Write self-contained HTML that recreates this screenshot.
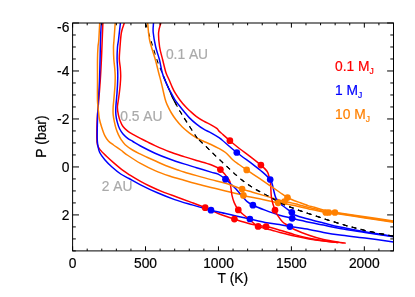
<!DOCTYPE html>
<html><head><meta charset="utf-8"><title>P-T profiles</title>
<style>
html,body{margin:0;padding:0;background:#fff;}
body{width:415px;height:297px;overflow:hidden;}
svg{display:block;will-change:transform;}
svg text{font-family:"Liberation Sans",sans-serif;font-kerning:none;}
</style></head><body>
<svg width="415" height="297" viewBox="0 0 415 297">
<rect width="415" height="297" fill="#fff"/>
<defs><clipPath id="clipE"><rect x="279.5" y="108" width="120" height="150"/></clipPath><clipPath id="clipD"><rect x="60" y="108" width="340" height="150"/></clipPath><clipPath id="clip"><rect x="72.6" y="23.0" width="320.9" height="227.9"/></clipPath></defs>
<g clip-path="url(#clip)" fill="none" stroke-linejoin="round" stroke-linecap="butt">
<path d="M102.90,23.00 C102.78,25.83 102.45,33.83 102.20,40.00 C101.95,46.17 101.72,53.33 101.40,60.00 C101.08,66.67 100.75,73.17 100.30,80.00 C99.85,86.83 99.22,94.50 98.70,101.00 C98.18,107.50 97.52,112.83 97.20,119.00 C96.88,125.17 96.75,133.67 96.80,138.00 C96.85,142.33 96.97,143.07 97.50,145.00 C98.03,146.93 98.55,147.77 100.00,149.60 C101.45,151.43 103.95,153.83 106.20,156.00 C108.45,158.17 110.72,160.20 113.50,162.60 C116.28,165.00 120.15,168.32 122.90,170.40 C125.65,172.48 127.07,173.28 130.00,175.10 C132.93,176.92 137.17,179.45 140.50,181.30 C143.83,183.15 146.38,184.48 150.00,186.20 C153.62,187.92 157.75,189.80 162.20,191.60 C166.65,193.40 172.07,195.28 176.70,197.00 C181.33,198.72 185.25,200.12 190.00,201.90 C194.75,203.68 200.50,205.77 205.20,207.70 C209.90,209.63 213.33,211.60 218.20,213.50 C223.07,215.40 229.02,217.37 234.40,219.10 C239.78,220.83 245.22,222.65 250.50,223.90 C255.78,225.15 261.18,225.55 266.10,226.60 C271.02,227.65 275.27,228.87 280.00,230.20 C284.73,231.53 289.67,233.27 294.50,234.60 C299.33,235.93 304.17,237.17 309.00,238.20 C313.83,239.23 318.67,240.08 323.50,240.80 C328.33,241.52 335.58,242.22 338.00,242.50" stroke="#ff0000" stroke-width="1.5"/>
<path d="M101.20,23.00 C101.08,25.83 100.68,34.17 100.50,40.00 C100.32,45.83 100.27,51.33 100.10,58.00 C99.93,64.67 99.80,72.83 99.50,80.00 C99.20,87.17 98.63,94.50 98.30,101.00 C97.97,107.50 97.68,112.83 97.50,119.00 C97.32,125.17 97.15,133.67 97.20,138.00 C97.25,142.33 97.38,142.58 97.80,145.00 C98.22,147.42 98.53,150.05 99.70,152.50 C100.87,154.95 102.75,157.28 104.80,159.70 C106.85,162.12 109.35,164.62 112.00,167.00 C114.65,169.38 117.87,172.08 120.70,174.00 C123.53,175.92 125.70,176.70 129.00,178.50 C132.30,180.30 135.77,182.42 140.50,184.80 C145.23,187.18 151.70,190.33 157.40,192.80 C163.10,195.27 168.92,197.58 174.70,199.60 C180.48,201.62 187.47,203.52 192.10,204.90 C196.73,206.28 199.35,207.02 202.50,207.90 C205.65,208.78 207.17,209.27 211.00,210.20 C214.83,211.13 221.33,212.55 225.50,213.50 C229.67,214.45 231.93,214.98 236.00,215.90 C240.07,216.82 245.07,217.90 249.90,219.00 C254.73,220.10 260.07,221.57 265.00,222.50 C269.93,223.43 275.35,223.92 279.50,224.60 C283.65,225.28 284.98,225.78 289.90,226.60 C294.82,227.42 303.40,228.53 309.00,229.50 C314.60,230.47 318.33,231.48 323.50,232.40 C328.67,233.32 333.08,234.07 340.00,235.00 C346.92,235.93 356.08,236.83 365.00,238.00 C373.92,239.17 388.75,241.33 393.50,242.00" stroke="#0000ff" stroke-width="1.5"/>
<path d="M99.70,23.00 C99.55,25.83 99.08,36.00 98.80,40.00 C98.52,44.00 98.22,43.83 98.00,47.00 C97.78,50.17 97.58,53.50 97.50,59.00 C97.42,64.50 97.50,73.00 97.50,80.00 C97.50,87.00 97.32,95.58 97.50,101.00 C97.68,106.42 98.28,109.50 98.60,112.50 C98.92,115.50 98.90,116.58 99.40,119.00 C99.90,121.42 100.70,124.22 101.60,127.00 C102.50,129.78 103.67,133.37 104.80,135.70 C105.93,138.03 106.95,139.45 108.40,141.00 C109.85,142.55 111.45,143.50 113.50,145.00 C115.55,146.50 118.28,148.25 120.70,150.00 C123.12,151.75 124.70,153.27 128.00,155.50 C131.30,157.73 136.00,160.88 140.50,163.40 C145.00,165.92 150.17,168.50 155.00,170.60 C159.83,172.70 164.67,174.38 169.50,176.00 C174.33,177.62 179.50,179.00 184.00,180.30 C188.50,181.60 192.00,182.62 196.50,183.80 C201.00,184.98 206.17,186.20 211.00,187.40 C215.83,188.60 220.10,189.67 225.50,191.00 C230.90,192.33 237.70,194.10 243.40,195.40 C249.10,196.70 253.92,197.57 259.70,198.80 C265.48,200.03 273.08,201.82 278.10,202.80 C283.12,203.78 286.40,204.10 289.80,204.70 C293.20,205.30 295.47,205.73 298.50,206.40 C301.53,207.07 305.37,208.10 308.00,208.70 C310.63,209.30 311.38,209.40 314.30,210.00 C317.22,210.60 321.88,211.70 325.50,212.30 C329.12,212.90 329.42,212.65 336.00,213.60 C342.58,214.55 355.42,216.55 365.00,218.00 C374.58,219.45 388.75,221.58 393.50,222.30" stroke="#ff8000" stroke-width="1.5"/>
<path d="M124.30,23.00 C123.82,24.58 122.12,28.50 121.40,32.50 C120.68,36.50 120.35,42.58 120.00,47.00 C119.65,51.42 119.25,55.50 119.30,59.00 C119.35,62.50 120.07,65.17 120.30,68.00 C120.53,70.83 120.72,73.17 120.70,76.00 C120.68,78.83 120.45,82.00 120.20,85.00 C119.95,88.00 119.53,91.33 119.20,94.00 C118.87,96.67 118.50,98.75 118.20,101.00 C117.90,103.25 117.37,105.18 117.40,107.50 C117.43,109.82 117.95,112.70 118.40,114.90 C118.85,117.10 119.33,118.77 120.10,120.70 C120.87,122.63 121.73,124.77 123.00,126.50 C124.27,128.23 125.97,129.75 127.70,131.10 C129.43,132.45 131.28,133.38 133.40,134.60 C135.52,135.82 138.13,137.22 140.40,138.40 C142.67,139.58 144.57,140.50 147.00,141.70 C149.43,142.90 151.25,143.93 155.00,145.60 C158.75,147.27 164.67,149.87 169.50,151.70 C174.33,153.53 179.50,155.13 184.00,156.60 C188.50,158.07 192.00,159.13 196.50,160.50 C201.00,161.87 207.02,163.28 211.00,164.80 C214.98,166.32 217.38,167.07 220.40,169.60 C223.42,172.13 227.42,177.40 229.10,180.00 C230.78,182.60 230.02,182.63 230.50,185.20 C230.98,187.77 231.38,192.50 232.00,195.40 C232.62,198.30 233.15,200.18 234.20,202.60 C235.25,205.02 236.80,207.92 238.30,209.90 C239.80,211.88 241.32,212.88 243.20,214.50 C245.08,216.12 247.12,217.62 249.60,219.60 C252.08,221.58 254.37,224.63 258.10,226.40 C261.83,228.17 268.35,229.20 272.00,230.20 C275.65,231.20 276.25,231.43 280.00,232.40 C283.75,233.37 289.67,234.92 294.50,236.00 C299.33,237.08 304.17,238.07 309.00,238.90 C313.83,239.73 318.53,240.38 323.50,241.00 C328.47,241.62 336.25,242.33 338.80,242.60" stroke="#ff0000" stroke-width="1.5"/>
<path d="M120.40,23.00 C120.08,25.83 118.98,36.00 118.50,40.00 C118.02,44.00 117.73,43.83 117.50,47.00 C117.27,50.17 117.08,55.50 117.10,59.00 C117.12,62.50 117.48,65.17 117.60,68.00 C117.72,70.83 117.82,73.17 117.80,76.00 C117.78,78.83 117.63,82.17 117.50,85.00 C117.37,87.83 117.18,90.50 117.00,93.00 C116.82,95.50 116.60,97.50 116.40,100.00 C116.20,102.50 115.88,105.52 115.80,108.00 C115.72,110.48 115.67,112.58 115.90,114.90 C116.13,117.22 116.58,119.58 117.20,121.90 C117.82,124.22 118.63,126.78 119.60,128.80 C120.57,130.82 121.65,132.42 123.00,134.00 C124.35,135.58 126.05,137.05 127.70,138.30 C129.35,139.55 130.77,140.22 132.90,141.50 C135.03,142.78 136.82,144.05 140.50,146.00 C144.18,147.95 150.17,151.03 155.00,153.20 C159.83,155.37 164.67,157.22 169.50,159.00 C174.33,160.78 179.50,162.45 184.00,163.90 C188.50,165.35 192.00,166.33 196.50,167.70 C201.00,169.07 207.38,171.02 211.00,172.10 C214.62,173.18 215.78,173.02 218.20,174.20 C220.62,175.38 223.32,177.48 225.50,179.20 C227.68,180.92 229.55,182.85 231.30,184.50 C233.05,186.15 234.30,187.30 236.00,189.10 C237.70,190.90 239.63,193.22 241.50,195.30 C243.37,197.38 245.30,199.95 247.20,201.60 C249.10,203.25 249.93,203.78 252.90,205.20 C255.87,206.62 260.57,208.43 265.00,210.10 C269.43,211.77 274.97,213.83 279.50,215.20 C284.03,216.57 287.28,217.13 292.20,218.30 C297.12,219.47 303.78,221.07 309.00,222.20 C314.22,223.33 318.33,224.07 323.50,225.10 C328.67,226.13 333.08,227.18 340.00,228.40 C346.92,229.62 356.08,231.00 365.00,232.40 C373.92,233.80 388.75,236.07 393.50,236.80" stroke="#0000ff" stroke-width="1.5"/>
<path d="M115.20,23.00 C115.00,25.83 114.28,36.00 114.00,40.00 C113.72,44.00 113.53,43.83 113.50,47.00 C113.47,50.17 113.60,55.50 113.80,59.00 C114.00,62.50 114.47,65.17 114.70,68.00 C114.93,70.83 115.15,73.17 115.20,76.00 C115.25,78.83 115.13,82.17 115.00,85.00 C114.87,87.83 114.62,90.33 114.40,93.00 C114.18,95.67 113.92,98.50 113.70,101.00 C113.48,103.50 113.18,105.68 113.10,108.00 C113.02,110.32 112.98,112.58 113.20,114.90 C113.42,117.22 113.92,119.58 114.40,121.90 C114.88,124.22 115.43,126.68 116.10,128.80 C116.77,130.92 117.53,132.77 118.40,134.60 C119.27,136.43 120.17,138.12 121.30,139.80 C122.43,141.48 123.33,143.00 125.20,144.70 C127.07,146.40 129.95,148.42 132.50,150.00 C135.05,151.58 138.08,153.00 140.50,154.20 C142.92,155.40 144.58,156.10 147.00,157.20 C149.42,158.30 152.58,159.70 155.00,160.80 C157.42,161.90 159.08,162.77 161.50,163.80 C163.92,164.83 166.75,165.97 169.50,167.00 C172.25,168.03 175.58,169.17 178.00,170.00 C180.42,170.83 180.92,171.07 184.00,172.00 C187.08,172.93 192.00,174.33 196.50,175.60 C201.00,176.87 206.17,178.32 211.00,179.60 C215.83,180.88 220.32,181.72 225.50,183.30 C230.68,184.88 237.60,187.62 242.10,189.10 C246.60,190.58 247.52,190.73 252.50,192.20 C257.48,193.67 266.67,196.35 272.00,197.90 C277.33,199.45 281.53,200.75 284.50,201.50 C287.47,202.25 287.47,201.87 289.80,202.40 C292.13,202.93 295.47,203.88 298.50,204.70 C301.53,205.52 305.37,206.62 308.00,207.30 C310.63,207.98 311.43,208.08 314.30,208.80 C317.17,209.52 321.58,210.90 325.20,211.60 C328.82,212.30 329.37,212.03 336.00,213.00 C342.63,213.97 355.42,215.95 365.00,217.40 C374.58,218.85 388.75,220.98 393.50,221.70" stroke="#ff8000" stroke-width="1.5"/>
<path d="M160.80,23.00 C160.43,24.58 158.80,28.50 158.60,32.50 C158.40,36.50 158.93,42.50 159.60,47.00 C160.27,51.50 161.55,55.25 162.60,59.50 C163.65,63.75 164.80,69.08 165.90,72.50 C167.00,75.92 168.25,77.78 169.20,80.00 C170.15,82.22 170.63,83.68 171.60,85.80 C172.57,87.92 173.65,90.38 175.00,92.70 C176.35,95.02 177.97,97.38 179.70,99.70 C181.43,102.02 183.68,104.72 185.40,106.60 C187.12,108.48 188.15,109.33 190.00,111.00 C191.85,112.67 194.22,114.90 196.50,116.60 C198.78,118.30 201.28,119.83 203.70,121.20 C206.12,122.57 208.82,123.60 211.00,124.80 C213.18,126.00 215.47,127.35 216.80,128.40 C218.13,129.45 217.97,130.07 219.00,131.10 C220.03,132.13 221.18,133.00 223.00,134.60 C224.82,136.20 227.07,138.30 229.90,140.70 C232.73,143.10 236.72,146.43 240.00,149.00 C243.28,151.57 246.12,153.42 249.60,156.10 C253.08,158.78 258.00,162.57 260.90,165.10 C263.80,167.63 265.62,169.30 267.00,171.30 C268.38,173.30 268.60,175.02 269.20,177.10 C269.80,179.18 270.22,180.33 270.60,183.80 C270.98,187.27 270.77,193.50 271.50,197.90 C272.23,202.30 273.92,207.20 275.00,210.20 C276.08,213.20 276.77,213.98 278.00,215.90 C279.23,217.82 280.87,220.17 282.40,221.70 C283.93,223.23 285.18,223.80 287.20,225.10 C289.22,226.40 290.87,227.80 294.50,229.50 C298.13,231.20 304.17,233.62 309.00,235.30 C313.83,236.98 318.33,238.40 323.50,239.60 C328.67,240.80 336.30,241.90 340.00,242.50 C343.70,243.10 344.75,243.08 345.70,243.20" stroke="#ff0000" stroke-width="1.5"/>
<path d="M145.60,23.00 C146.57,26.17 149.47,35.75 151.40,42.00 C153.33,48.25 155.63,55.90 157.20,60.50 C158.77,65.10 159.72,66.88 160.80,69.60 C161.88,72.32 161.77,72.22 163.70,76.80 C165.63,81.38 170.27,92.42 172.40,97.10 C174.53,101.78 175.38,102.75 176.50,104.90 C177.62,107.05 178.28,108.57 179.10,110.00 C179.92,111.43 180.68,112.37 181.40,113.50 C182.12,114.63 180.88,112.87 183.40,116.80 C185.92,120.73 193.72,133.08 196.50,137.10 C199.28,141.12 192.52,133.75 200.10,140.90 C207.68,148.05 230.47,170.72 242.00,180.00 C253.53,189.28 261.30,192.10 269.30,196.60 C277.30,201.10 278.88,202.68 290.00,207.00 C301.12,211.32 323.50,218.60 336.00,222.50 C348.50,226.40 355.42,228.12 365.00,230.40 C374.58,232.68 388.75,235.23 393.50,236.20" stroke="#000" stroke-width="1.05" stroke-dasharray="4.8 4.6" stroke-dashoffset="0"/>
<path d="M163.3,76 L172.3,97.1 L176.5,105.2" stroke="#000" stroke-width="1.3"/>
<path d="M153.50,23.00 C153.45,24.58 152.83,28.50 153.20,32.50 C153.57,36.50 154.67,42.50 155.70,47.00 C156.73,51.50 158.32,55.25 159.40,59.50 C160.48,63.75 161.28,69.08 162.20,72.50 C163.12,75.92 163.93,77.58 164.90,80.00 C165.87,82.42 166.98,84.88 168.00,87.00 C169.02,89.12 169.87,90.60 171.00,92.70 C172.13,94.80 173.50,97.55 174.80,99.60 C176.10,101.65 177.27,103.02 178.80,105.00 C180.33,106.98 182.27,109.40 184.00,111.50 C185.73,113.60 187.12,115.50 189.20,117.60 C191.28,119.70 194.08,122.17 196.50,124.10 C198.92,126.03 201.28,127.75 203.70,129.20 C206.12,130.65 208.58,131.48 211.00,132.80 C213.42,134.12 216.37,135.90 218.20,137.10 C220.03,138.30 218.90,137.43 222.00,140.00 C225.10,142.57 231.72,148.48 236.80,152.50 C241.88,156.52 248.20,160.83 252.50,164.10 C256.80,167.37 259.65,169.53 262.60,172.10 C265.55,174.67 268.60,177.52 270.20,179.50 C271.80,181.48 271.65,182.33 272.20,184.00 C272.75,185.67 272.87,187.12 273.50,189.50 C274.13,191.88 274.77,195.83 276.00,198.30 C277.23,200.77 278.27,201.97 280.90,204.30 C283.53,206.63 289.53,210.52 291.80,212.30 C294.07,214.08 291.63,213.83 294.50,215.00 C297.37,216.17 304.17,217.97 309.00,219.30 C313.83,220.63 318.33,221.70 323.50,223.00 C328.67,224.30 333.08,225.63 340.00,227.10 C346.92,228.57 356.08,230.27 365.00,231.80 C373.92,233.33 388.75,235.55 393.50,236.30" stroke="#0000ff" stroke-width="1.5"/>
<path d="M147.70,23.00 C148.02,25.83 148.33,33.92 149.60,40.00 C150.87,46.08 153.80,54.08 155.30,59.50 C156.80,64.92 157.72,69.08 158.60,72.50 C159.48,75.92 159.98,77.58 160.60,80.00 C161.22,82.42 161.55,83.83 162.30,87.00 C163.05,90.17 164.30,96.07 165.10,99.00 C165.90,101.93 166.05,102.27 167.10,104.60 C168.15,106.93 169.92,110.48 171.40,113.00 C172.88,115.52 174.18,117.37 176.00,119.70 C177.82,122.03 180.10,124.82 182.30,127.00 C184.50,129.18 186.83,130.98 189.20,132.80 C191.57,134.62 194.20,136.53 196.50,137.90 C198.80,139.27 200.58,139.90 203.00,141.00 C205.42,142.10 208.47,143.32 211.00,144.50 C213.53,145.68 215.78,146.77 218.20,148.10 C220.62,149.43 223.08,150.57 225.50,152.50 C227.92,154.43 230.45,157.70 232.70,159.70 C234.95,161.70 236.67,162.80 239.00,164.50 C241.33,166.20 243.23,167.53 246.70,169.90 C250.17,172.27 256.00,176.13 259.80,178.70 C263.60,181.27 266.25,183.08 269.50,185.30 C272.75,187.52 276.30,189.95 279.30,192.00 C282.30,194.05 285.55,196.40 287.50,197.60 C289.45,198.80 289.17,198.45 291.00,199.20 C292.83,199.95 295.67,201.03 298.50,202.10 C301.33,203.17 305.37,204.75 308.00,205.60 C310.63,206.45 311.43,206.37 314.30,207.20 C317.17,208.03 321.58,209.72 325.20,210.60 C328.82,211.48 329.37,211.47 336.00,212.50 C342.63,213.53 355.42,215.37 365.00,216.80 C374.58,218.23 388.75,220.38 393.50,221.10" stroke="#ff8000" stroke-width="1.5"/>
<g clip-path="url(#clipD)"><path d="M145.60,23.00 C146.57,26.17 149.47,35.75 151.40,42.00 C153.33,48.25 155.63,55.90 157.20,60.50 C158.77,65.10 159.72,66.88 160.80,69.60 C161.88,72.32 161.77,72.22 163.70,76.80 C165.63,81.38 170.27,92.42 172.40,97.10 C174.53,101.78 175.38,102.75 176.50,104.90 C177.62,107.05 178.28,108.57 179.10,110.00 C179.92,111.43 180.68,112.37 181.40,113.50 C182.12,114.63 180.88,112.87 183.40,116.80 C185.92,120.73 193.72,133.08 196.50,137.10 C199.28,141.12 192.52,133.75 200.10,140.90 C207.68,148.05 230.47,170.72 242.00,180.00 C253.53,189.28 261.30,192.10 269.30,196.60 C277.30,201.10 278.88,202.68 290.00,207.00 C301.12,211.32 323.50,218.60 336.00,222.50 C348.50,226.40 355.42,228.12 365.00,230.40 C374.58,232.68 388.75,235.23 393.50,236.20" stroke="#000" stroke-width="1.05" stroke-dasharray="4.8 4.6" stroke-dashoffset="0"/>
</g>
<circle cx="205.2" cy="207.7" r="3.35" fill="#ff0000" stroke="none"/>
<circle cx="234.4" cy="219.1" r="3.35" fill="#ff0000" stroke="none"/>
<circle cx="266.1" cy="226.6" r="3.35" fill="#ff0000" stroke="none"/>
<circle cx="211.0" cy="210.2" r="3.35" fill="#0000ff" stroke="none"/>
<circle cx="249.9" cy="219.0" r="3.35" fill="#0000ff" stroke="none"/>
<circle cx="289.9" cy="226.6" r="3.35" fill="#0000ff" stroke="none"/>
<circle cx="243.4" cy="195.4" r="3.35" fill="#ff8000" stroke="none"/>
<circle cx="278.1" cy="202.8" r="3.35" fill="#ff8000" stroke="none"/>
<circle cx="334.9" cy="212.5" r="3.35" fill="#ff8000" stroke="none"/>
<circle cx="220.4" cy="169.6" r="3.35" fill="#ff0000" stroke="none"/>
<circle cx="238.3" cy="209.9" r="3.35" fill="#ff0000" stroke="none"/>
<circle cx="258.1" cy="226.4" r="3.35" fill="#ff0000" stroke="none"/>
<circle cx="225.5" cy="179.2" r="3.35" fill="#0000ff" stroke="none"/>
<circle cx="252.9" cy="205.2" r="3.35" fill="#0000ff" stroke="none"/>
<circle cx="292.2" cy="218.3" r="3.35" fill="#0000ff" stroke="none"/>
<circle cx="242.1" cy="189.1" r="3.35" fill="#ff8000" stroke="none"/>
<circle cx="284.5" cy="201.5" r="3.35" fill="#ff8000" stroke="none"/>
<circle cx="328.8" cy="212.5" r="3.35" fill="#ff8000" stroke="none"/>
<circle cx="229.9" cy="140.7" r="3.35" fill="#ff0000" stroke="none"/>
<circle cx="260.9" cy="165.1" r="3.35" fill="#ff0000" stroke="none"/>
<circle cx="275.0" cy="210.2" r="3.35" fill="#ff0000" stroke="none"/>
<circle cx="236.8" cy="152.5" r="3.35" fill="#0000ff" stroke="none"/>
<circle cx="270.2" cy="179.5" r="3.35" fill="#0000ff" stroke="none"/>
<circle cx="291.8" cy="212.3" r="3.35" fill="#0000ff" stroke="none"/>
<circle cx="246.7" cy="169.9" r="3.35" fill="#ff8000" stroke="none"/>
<circle cx="287.5" cy="197.6" r="3.35" fill="#ff8000" stroke="none"/>
<circle cx="325.8" cy="212.5" r="3.35" fill="#ff8000" stroke="none"/>
<g clip-path="url(#clipE)"><path d="M145.60,23.00 C146.57,26.17 149.47,35.75 151.40,42.00 C153.33,48.25 155.63,55.90 157.20,60.50 C158.77,65.10 159.72,66.88 160.80,69.60 C161.88,72.32 161.77,72.22 163.70,76.80 C165.63,81.38 170.27,92.42 172.40,97.10 C174.53,101.78 175.38,102.75 176.50,104.90 C177.62,107.05 178.28,108.57 179.10,110.00 C179.92,111.43 180.68,112.37 181.40,113.50 C182.12,114.63 180.88,112.87 183.40,116.80 C185.92,120.73 193.72,133.08 196.50,137.10 C199.28,141.12 192.52,133.75 200.10,140.90 C207.68,148.05 230.47,170.72 242.00,180.00 C253.53,189.28 261.30,192.10 269.30,196.60 C277.30,201.10 278.88,202.68 290.00,207.00 C301.12,211.32 323.50,218.60 336.00,222.50 C348.50,226.40 355.42,228.12 365.00,230.40 C374.58,232.68 388.75,235.23 393.50,236.20" stroke="#000" stroke-width="1.05" stroke-dasharray="4.8 4.6" stroke-dashoffset="0"/>
</g>
</g>
<g stroke="#000" stroke-width="1" fill="none">
<rect x="72.6" y="23.0" width="320.9" height="227.9"/>
<path d="M72.60,250.90v-4.60 M72.60,23.00v4.60 M87.19,250.90v-2.30 M87.19,23.00v2.30 M101.77,250.90v-2.30 M101.77,23.00v2.30 M116.36,250.90v-2.30 M116.36,23.00v2.30 M130.95,250.90v-2.30 M130.95,23.00v2.30 M145.53,250.90v-4.60 M145.53,23.00v4.60 M160.12,250.90v-2.30 M160.12,23.00v2.30 M174.70,250.90v-2.30 M174.70,23.00v2.30 M189.29,250.90v-2.30 M189.29,23.00v2.30 M203.88,250.90v-2.30 M203.88,23.00v2.30 M218.46,250.90v-4.60 M218.46,23.00v4.60 M233.05,250.90v-2.30 M233.05,23.00v2.30 M247.64,250.90v-2.30 M247.64,23.00v2.30 M262.22,250.90v-2.30 M262.22,23.00v2.30 M276.81,250.90v-2.30 M276.81,23.00v2.30 M291.40,250.90v-4.60 M291.40,23.00v4.60 M305.98,250.90v-2.30 M305.98,23.00v2.30 M320.57,250.90v-2.30 M320.57,23.00v2.30 M335.15,250.90v-2.30 M335.15,23.00v2.30 M349.74,250.90v-2.30 M349.74,23.00v2.30 M364.33,250.90v-4.60 M364.33,23.00v4.60 M378.91,250.90v-2.30 M378.91,23.00v2.30 M393.50,250.90v-2.30 M393.50,23.00v2.30 M72.60,23.00h6.40 M393.50,23.00h-6.40 M72.60,34.99h3.20 M393.50,34.99h-3.20 M72.60,46.99h3.20 M393.50,46.99h-3.20 M72.60,58.98h3.20 M393.50,58.98h-3.20 M72.60,70.98h6.40 M393.50,70.98h-6.40 M72.60,82.97h3.20 M393.50,82.97h-3.20 M72.60,94.97h3.20 M393.50,94.97h-3.20 M72.60,106.96h3.20 M393.50,106.96h-3.20 M72.60,118.96h6.40 M393.50,118.96h-6.40 M72.60,130.95h3.20 M393.50,130.95h-3.20 M72.60,142.95h3.20 M393.50,142.95h-3.20 M72.60,154.94h3.20 M393.50,154.94h-3.20 M72.60,166.94h6.40 M393.50,166.94h-6.40 M72.60,178.93h3.20 M393.50,178.93h-3.20 M72.60,190.93h3.20 M393.50,190.93h-3.20 M72.60,202.92h3.20 M393.50,202.92h-3.20 M72.60,214.92h6.40 M393.50,214.92h-6.40 M72.60,226.91h3.20 M393.50,226.91h-3.20 M72.60,238.91h3.20 M393.50,238.91h-3.20 M72.60,250.90h3.20 M393.50,250.90h-3.20 "/>
</g>
<g font-size="13.8px" fill="#000" stroke="#000" stroke-width="0.2">
<text x="72.6" y="267.6" text-anchor="middle">0</text>
<text x="145.5" y="267.6" text-anchor="middle">500</text>
<text x="218.5" y="267.6" text-anchor="middle">1000</text>
<text x="291.4" y="267.6" text-anchor="middle">1500</text>
<text x="364.3" y="267.6" text-anchor="middle">2000</text>
<text x="69.4" y="31.7" text-anchor="end">-6</text>
<text x="69.4" y="75.8" text-anchor="end">-4</text>
<text x="69.4" y="123.8" text-anchor="end">-2</text>
<text x="69.4" y="171.7" text-anchor="end">0</text>
<text x="69.4" y="219.7" text-anchor="end">2</text>
<text x="232.8" y="282.6" text-anchor="middle">T (K)</text>
<text transform="translate(46.4,136.6) rotate(-90)" text-anchor="middle">P (bar)</text>
</g>
<g font-size="13.8px" fill="#aaaaaa" stroke="#aaaaaa" stroke-width="0.2">
<text x="165.9" y="58.8">0.1 AU</text>
<text x="120.3" y="121">0.5 AU</text>
<text x="101.7" y="190.9">2 AU</text>
</g>
<g font-size="13.8px">
<text x="335.1" y="71" fill="#ff0000" stroke="#ff0000" stroke-width="0.2">0.1 M<tspan dy="2.7" font-size="8.5px">J</tspan></text>
<text x="335.1" y="95" fill="#0000ff" stroke="#0000ff" stroke-width="0.2">1 M<tspan dy="2.7" font-size="8.5px">J</tspan></text>
<text x="335.1" y="119" fill="#ff8000" stroke="#ff8000" stroke-width="0.2">10 M<tspan dy="2.7" font-size="8.5px">J</tspan></text>
</g>
</svg>
</body></html>
